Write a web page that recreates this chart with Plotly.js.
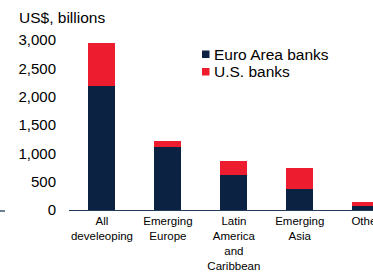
<!DOCTYPE html>
<html>
<head>
<meta charset="utf-8">
<script src="https://cdn.plot.ly/plotly-3.0.1.min.js"></script>
<style>html,body{margin:0;padding:0;background:#fff;}#chart{width:373px;height:275px;}</style>
</head>
<body>
<div id="chart"></div>
<script>
const categories = ["All<br>develeoping", "Emerging<br>Europe", "Latin<br>America<br>and<br>Caribbean", "Emerging<br>Asia", "Other"];
const euroAreaBanks = [2190, 1115, 620, 375, 65];
const usBanks = [760, 105, 250, 360, 75];
const seriesNames = ["Euro Area banks", "U.S. banks"];
const seriesColors = ["#0b2243", "#ed1c2e"];
const yTickVals = [0, 500, 1000, 1500, 2000, 2500, 3000];
const yTickText = ["0", "500", "1,000", "1,500", "2,000", "2,500", "3,000"];
const yUnit = "US$, billions";

const font = "Liberation Sans, Arial, sans-serif";

const traces = [
  {type: "bar", x: categories, y: euroAreaBanks, name: seriesNames[0],
   marker: {color: seriesColors[0], line: {width: 0}}},
  {type: "bar", x: categories, y: usBanks, name: seriesNames[1],
   marker: {color: seriesColors[1], line: {width: 0}}}
];

const layout = {
  width: 373, height: 275,
  margin: {l: 69, r: 0, t: 40, b: 65, pad: 0},
  paper_bgcolor: "#fff", plot_bgcolor: "#fff",
  barmode: "stack",
  bargap: 0.59,
  showlegend: false,
  font: {family: font, color: "#000"},
  xaxis: {
    range: [-0.5, 4.11],
    showgrid: false, zeroline: false,
    showline: true, linecolor: "#1f3a5a", linewidth: 1.3,
    ticks: "", tickfont: {size: 11.5, family: font, color: "#000"},
    tickangle: 0, automargin: false
  },
  yaxis: {
    range: [0, 3000],
    tickvals: yTickVals, ticktext: yTickText,
    showgrid: false, zeroline: false, showline: false,
    ticks: "", ticklabelstandoff: 12,
    tickfont: {size: 15, family: font, color: "#000"},
    automargin: false
  },
  annotations: [
    {text: yUnit, xref: "paper", yref: "paper", x: -0.17, y: 1.135,
     xanchor: "left", yanchor: "middle", showarrow: false,
     font: {size: 15.5, family: font, color: "#000"}},
    {text: seriesNames[0], xref: "paper", yref: "paper", x: 0.47, y: (210 - 54.3) / 170,
     xanchor: "left", yanchor: "middle", showarrow: false,
     font: {size: 15.5, family: font, color: "#000"}},
    {text: seriesNames[1], xref: "paper", yref: "paper", x: 0.47, y: (210 - 71.7) / 170,
     xanchor: "left", yanchor: "middle", showarrow: false,
     font: {size: 15.5, family: font, color: "#000"}}
  ],
  shapes: [
    {type: "rect", xref: "paper", yref: "paper",
     x0: (202 - 69) / 304, x1: (209.5 - 69) / 304,
     y0: (210 - 58) / 170, y1: (210 - 50.5) / 170,
     fillcolor: seriesColors[0], line: {width: 0}},
    {type: "rect", xref: "paper", yref: "paper",
     x0: (202 - 69) / 304, x1: (209.5 - 69) / 304,
     y0: (210 - 75.5) / 170, y1: (210 - 68) / 170,
     fillcolor: seriesColors[1], line: {width: 0}},
    {type: "line", xref: "paper", yref: "paper",
     x0: -69 / 304, x1: -64 / 304, y0: -1 / 170, y1: -1 / 170,
     line: {color: "#1f3a5a", width: 1.3}}
  ]
};

Plotly.newPlot("chart", traces, layout, {displayModeBar: false, staticPlot: true});
</script>
</body>
</html>
